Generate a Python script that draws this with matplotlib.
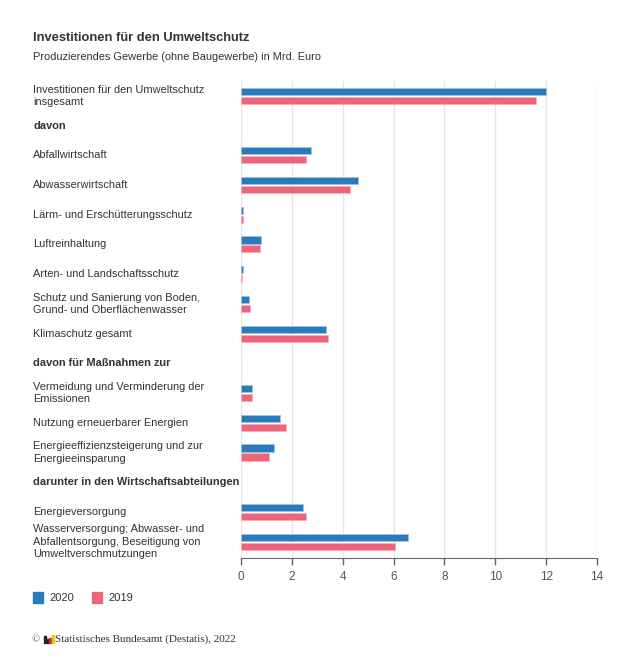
import numpy as np
import matplotlib
matplotlib.use('Agg')
import matplotlib.pyplot as plt
from matplotlib.patches import Rectangle
import matplotlib.transforms as mtransforms

plt.rcParams['font.family'] = ['Liberation Sans', 'DejaVu Sans']

categories = [
    "Investitionen für den Umweltschutz\ninsgesamt",
    "davon",
    "Abfallwirtschaft",
    "Abwasserwirtschaft",
    "Lärm- und Erschütterungsschutz",
    "Luftreinhaltung",
    "Arten- und Landschaftsschutz",
    "Schutz und Sanierung von Boden,\nGrund- und Oberflächenwasser",
    "Klimaschutz gesamt",
    "davon für Maßnahmen zur",
    "Vermeidung und Verminderung der\nEmissionen",
    "Nutzung erneuerbarer Energien",
    "Energieeffizienzsteigerung und zur\nEnergieeinsparung",
    "darunter in den Wirtschaftsabteilungen",
    "Energieversorgung",
    "Wasserversorgung; Abwasser- und\nAbfallentsorgung, Beseitigung von\nUmweltverschmutzungen",
]
# header rows have no values
headers = [False, True, False, False, False, False, False, False, False,
           True, False, False, False, True, False, False]
values_2020 = [12.0, None, 2.75, 4.59, 0.07, 0.77, 0.07, 0.31, 3.33,
               None, 0.42, 1.55, 1.28, None, 2.42, 6.58]
values_2019 = [11.6, None, 2.56, 4.29, 0.07, 0.75, 0.03, 0.35, 3.42,
               None, 0.45, 1.78, 1.10, None, 2.56, 6.06]
years = ["2020", "2019"]
colors = ["#2b7bba", "#ee6478"]
xticks = [0, 2, 4, 6, 8, 10, 12, 14]

W, H = 630, 656
fig = plt.figure(figsize=(W / 100, H / 100), dpi=100)
ax = fig.add_axes([241 / W, 1 - 558 / H, (597 - 241) / W, (558 - 81) / H])

y = np.arange(len(categories))
v20 = np.array([np.nan if v is None else v for v in values_2020])
v19 = np.array([np.nan if v is None else v for v in values_2019])
bh = 0.24
ax.barh(y - 0.15, v20, height=bh, color=colors[0], edgecolor='#9cc3e2', linewidth=0.6, zorder=3)
ax.barh(y + 0.15, v19, height=bh, color=colors[1], edgecolor='#f6b0ba', linewidth=0.6, zorder=3)

ax.set_ylim(len(categories) - 0.45, -0.5)
ax.set_xlim(0, 14)
ax.set_xticks(xticks)
ax.set_xticklabels([str(t) for t in xticks])
ax.set_yticks([])
ax.grid(axis='x', color='#e6e6e6', linewidth=1, zorder=0)
for s in ['top', 'right', 'left']:
    ax.spines[s].set_visible(False)
ax.spines['bottom'].set_color('#666666')
ax.tick_params(axis='x', colors='#666666', labelcolor='#555555', labelsize=8.5,
               length=5, width=1, pad=4)

# category labels, left aligned in figure coords
trans = mtransforms.blended_transform_factory(fig.transFigure, ax.transData)
for i, lab in enumerate(categories):
    ax.text(33 / W, i, lab, transform=trans, ha='left', va='center',
            fontsize=7.9, color='#333333', linespacing=1.3,
            fontweight='bold' if headers[i] else 'normal', clip_on=False)

# title
fig.text(33 / W, 1 - 38 / H, "Investitionen für den Umweltschutz", fontsize=9.3,
         fontweight='bold', color='#333333', va='center')
fig.text(33 / W, 1 - 57 / H, "Produzierendes Gewerbe (ohne Baugewerbe) in Mrd. Euro",
         fontsize=7.9, color='#333333', va='center')

# legend
lx = [33, 92]
for i, yr in enumerate(years):
    fig.patches.append(Rectangle((lx[i] / W, 1 - 603 / H), 10 / W, 11 / H,
                                 transform=fig.transFigure, color=colors[i]))
    fig.text((lx[i] + 16) / W, 1 - 598 / H, yr, fontsize=8, color='#333333', va='center')

# footer
fig.text(32 / W, 1 - 640 / H, "©", fontsize=7.5, color='#555555', va='center',
         family='Liberation Serif')
for dx, hh, c in [(44, 7, '#222222'), (46.5, 4, '#222222'), (49, 5, '#d32f2f'), (51.5, 8, '#f4c20d')]:
    fig.patches.append(Rectangle((dx / W, 1 - 643 / H), 2 / W, hh / H,
                                 transform=fig.transFigure, color=c))
fig.text(55 / W, 1 - 639 / H, "Statistisches Bundesamt (Destatis), 2022", fontsize=8,
         color='#333333', va='center', family='Liberation Serif')

fig.savefig('out.png', dpi=100)
